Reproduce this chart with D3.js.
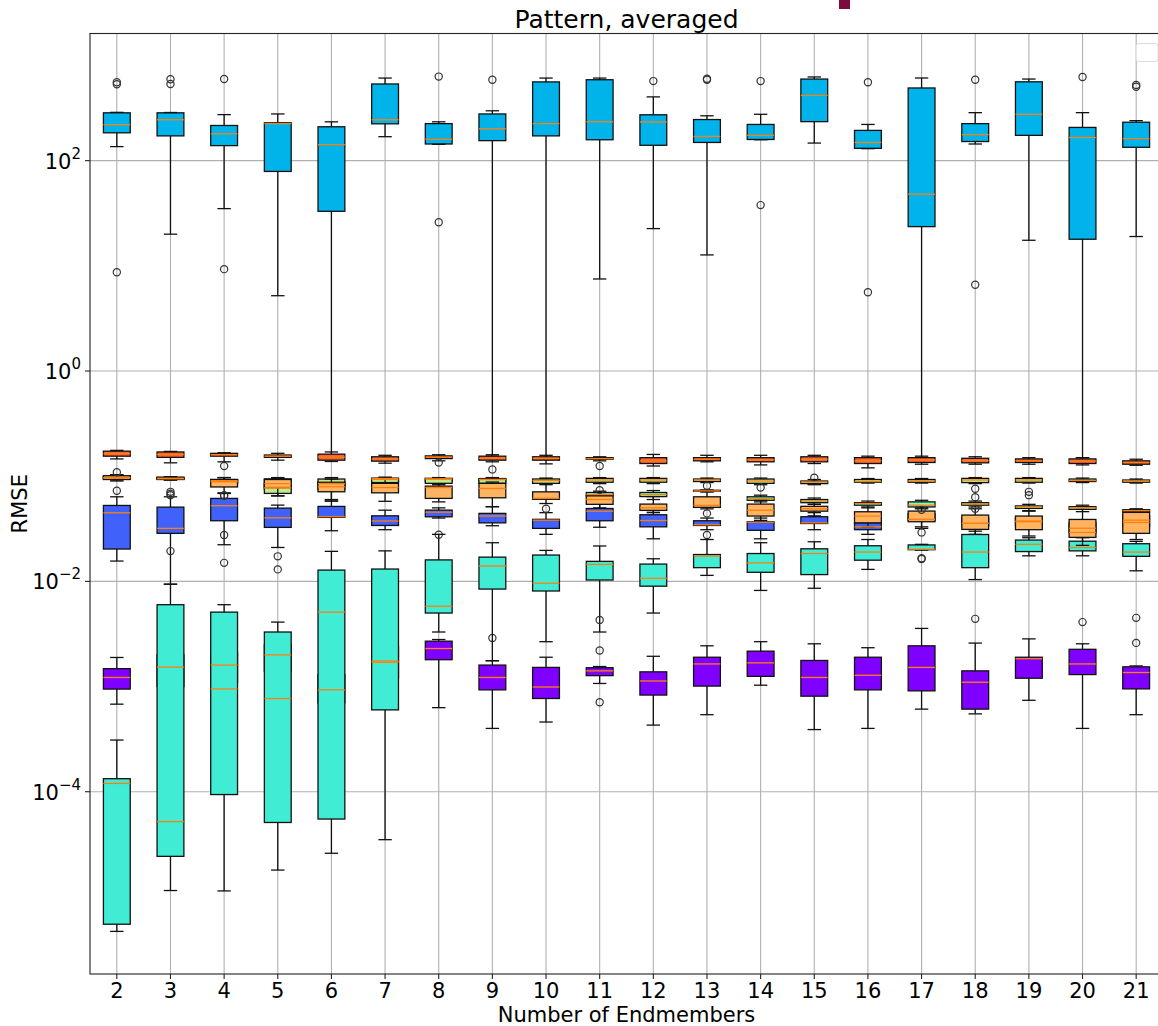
<!DOCTYPE html>
<html>
<head>
<meta charset="utf-8">
<script src="https://cdn.jsdelivr.net/npm/d3@7"></script>
<style>
  body { margin: 0; background: #fff; }
  text { font-family: "DejaVu Sans", sans-serif; fill: #000; }
</style>
</head>
<body>
<svg id="chart" width="1158" height="1026"></svg>
<script>
const categories = ['2', '3', '4', '5', '6', '7', '8', '9', '10', '11', '12', '13', '14', '15', '16', '17', '18', '19', '20', '21'];
const yTickValues = [1e-4, 1e-2, 1, 1e2];
const yTickExponents = ['\u22124', '\u22122', '0', '2'];

// five-number summaries per category: [low whisker, Q1, median, Q3, high whisker]
const purpleStats = [
    [0.00068, 0.000946, 0.00122, 0.00148, 0.00189], [0.0006, 0.001, 0.00153, 0.002, 0.003],
    [0.0006, 0.0011, 0.0016, 0.0021, 0.0032], [0.0008, 0.0014, 0.002, 0.0025, 0.003],
    [0.0004, 0.0007, 0.00093, 0.0013, 0.002], [0.0007, 0.0012, 0.0017, 0.0024, 0.0035],
    [0.00063, 0.0018, 0.0023, 0.0027, 0.0028], [0.0004, 0.00093, 0.00122, 0.0016, 0.00176],
    [0.00046, 0.00077, 0.00099, 0.00152, 0.0019], [0.00107, 0.00127, 0.00141, 0.00151, 0.00155],
    [0.00043, 0.00083, 0.00113, 0.00138, 0.00194], [0.00054, 0.00101, 0.00164, 0.0019, 0.00244],
    [0.00103, 0.00125, 0.00168, 0.00217, 0.00267], [0.00039, 0.00081, 0.00122, 0.00177, 0.00255],
    [0.0004, 0.00093, 0.00128, 0.0019, 0.00234], [0.00061, 0.00091, 0.00152, 0.00244, 0.00357],
    [0.00055, 0.00061, 0.0011, 0.00141, 0.00259], [0.00074, 0.0012, 0.00184, 0.0019, 0.00284],
    [0.0004, 0.0013, 0.00164, 0.00226, 0.00255], [0.00054, 0.00095, 0.00136, 0.00154, 0.00157]
];
const blueStats = [
    [0.0156, 0.0203, 0.0449, 0.0527, 0.0637], [0.0094, 0.0286, 0.0319, 0.0508, 0.0637],
    [0.0223, 0.0377, 0.0524, 0.0615, 0.0685], [0.021, 0.0326, 0.0402, 0.0497, 0.0531],
    [0.0303, 0.0406, 0.0412, 0.0516, 0.058], [0.031, 0.034, 0.0375, 0.042, 0.0475],
    [0.04, 0.0411, 0.0455, 0.0476, 0.05], [0.0338, 0.036, 0.0418, 0.0443, 0.0513],
    [0.028, 0.0319, 0.0382, 0.0389, 0.045], [0.0327, 0.0377, 0.0465, 0.0493, 0.055],
    [0.0254, 0.033, 0.0379, 0.043, 0.047], [0.031, 0.034, 0.0345, 0.0377, 0.04],
    [0.0254, 0.0306, 0.0365, 0.0369, 0.04], [0.031, 0.0355, 0.036, 0.0412, 0.045],
    [0.028, 0.031, 0.033, 0.036, 0.038], [0.033, 0.038, 0.0388, 0.044, 0.046],
    [0.032, 0.034, 0.0356, 0.04, 0.042], [0.032, 0.034, 0.0375, 0.04, 0.041],
    [0.028, 0.029, 0.032, 0.036, 0.038], [0.03, 0.033, 0.0382, 0.042, 0.044]
];
const cyanStats = [
    [136, 184, 220, 285, 288], [20, 172, 245, 285, 287], [35, 139, 180, 216, 274],
    [5.2, 79, 225, 229, 278], [0.155, 33, 142, 210, 234], [169, 224, 245, 536, 610],
    [143, 144, 160, 225, 234], [0.155, 155, 201, 278, 298], [0.15, 172, 225, 561, 610],
    [7.5, 158, 234, 588, 610], [22.6, 140, 233, 273, 404], [12.7, 149, 170, 246, 267],
    [158, 159, 174, 221, 276], [147, 235, 417, 597, 625], [130, 131, 149, 194, 221],
    [0.15, 23.6, 48, 491, 611], [144, 152, 177, 225, 286], [17.5, 174, 276, 562, 597],
    [0.15, 17.9, 166, 207, 286], [19, 134, 162, 232, 240]
];
const turquoiseStats = [
    [4.7e-6, 5.5e-6, 0.00012, 0.000133, 0.00031], [1.15e-5, 2.43e-5, 5.2e-5, 0.006, 0.0094],
    [1.14e-5, 9.4e-5, 0.00095, 0.0051, 0.006], [1.8e-5, 5.1e-5, 0.00077, 0.0033, 0.0041],
    [2.6e-5, 5.5e-5, 0.0051, 0.0128, 0.0193], [3.5e-5, 0.0006, 0.00175, 0.0131, 0.0195],
    [0.0033, 0.005, 0.0058, 0.016, 0.028], [0.00176, 0.00845, 0.014, 0.017, 0.0233],
    [0.00267, 0.0081, 0.0096, 0.0178, 0.0197], [0.0033, 0.0103, 0.0145, 0.0155, 0.0217],
    [0.005, 0.009, 0.0107, 0.0146, 0.0164], [0.0114, 0.0135, 0.0174, 0.018, 0.025],
    [0.0082, 0.0122, 0.015, 0.0184, 0.0233], [0.0086, 0.0116, 0.0184, 0.0204, 0.0238],
    [0.013, 0.0159, 0.019, 0.0218, 0.025], [0.0198, 0.02, 0.0202, 0.0222, 0.0225],
    [0.0104, 0.0135, 0.019, 0.0279, 0.03], [0.0175, 0.0192, 0.0225, 0.0247, 0.026],
    [0.0175, 0.0195, 0.021, 0.0241, 0.026], [0.0126, 0.0173, 0.019, 0.0228, 0.024]
];
const mintStats = [
    [0.094, 0.095, 0.097, 0.099, 0.1], [0.093, 0.094, 0.095, 0.096, 0.097],
    [0.085, 0.087, 0.09, 0.092, 0.093], [0.07, 0.075, 0.0775, 0.085, 0.09],
    [0.08, 0.082, 0.085, 0.088, 0.09], [0.088, 0.09, 0.093, 0.094, 0.095],
    [0.087, 0.089, 0.094, 0.095, 0.095], [0.087, 0.089, 0.093, 0.094, 0.095],
    [0.087, 0.088, 0.091, 0.093, 0.094], [0.063, 0.065, 0.067, 0.07, 0.072],
    [0.06, 0.064, 0.067, 0.07, 0.073], [0.071, 0.072, 0.0725, 0.0735, 0.074],
    [0.057, 0.059, 0.061, 0.0637, 0.066], [0.054, 0.056, 0.058, 0.06, 0.062],
    [0.051, 0.053, 0.055, 0.056, 0.058], [0.049, 0.051, 0.053, 0.057, 0.059],
    [0.051, 0.053, 0.0545, 0.056, 0.058], [0.047, 0.0494, 0.051, 0.0522, 0.054],
    [0.046, 0.0484, 0.05, 0.0513, 0.053], [0.045, 0.046, 0.047, 0.048, 0.049]
];
const lightGreenStats = [
    [0.092, 0.094, 0.097, 0.1, 0.103], [0.092, 0.094, 0.095, 0.097, 0.099],
    [0.08, 0.085, 0.09, 0.093, 0.097], [0.065, 0.0686, 0.0775, 0.0944, 0.097],
    [0.06, 0.075, 0.085, 0.094, 0.097], [0.085, 0.087, 0.095, 0.096, 0.098],
    [0.083, 0.0855, 0.094, 0.0953, 0.097], [0.083, 0.0855, 0.093, 0.095, 0.097],
    [0.083, 0.0855, 0.091, 0.094, 0.096], [0.085, 0.0876, 0.092, 0.0953, 0.097],
    [0.085, 0.0876, 0.092, 0.0953, 0.097], [0.087, 0.089, 0.092, 0.094, 0.096],
    [0.083, 0.0855, 0.09, 0.094, 0.096], [0.083, 0.085, 0.088, 0.09, 0.093],
    [0.086, 0.0876, 0.089, 0.093, 0.095], [0.086, 0.0876, 0.09, 0.093, 0.095],
    [0.085, 0.0869, 0.092, 0.0953, 0.097], [0.086, 0.0876, 0.092, 0.0953, 0.097],
    [0.087, 0.089, 0.091, 0.094, 0.096], [0.086, 0.0876, 0.09, 0.092, 0.094]
];
const orangeStats = [
    [0.09, 0.093, 0.096, 0.101, 0.103], [0.092, 0.093, 0.095, 0.098, 0.099],
    [0.0695, 0.079, 0.0885, 0.093, 0.097], [0.065, 0.078, 0.085, 0.093, 0.095],
    [0.058, 0.0711, 0.0794, 0.0876, 0.094], [0.0577, 0.0695, 0.078, 0.0855, 0.096],
    [0.057, 0.0615, 0.078, 0.0805, 0.085], [0.0513, 0.0623, 0.0765, 0.0855, 0.088],
    [0.055, 0.0603, 0.0617, 0.071, 0.085], [0.05, 0.054, 0.06, 0.065, 0.07],
    [0.045, 0.0473, 0.05, 0.0543, 0.064], [0.0489, 0.0505, 0.0528, 0.0637, 0.071],
    [0.038, 0.0418, 0.0475, 0.0543, 0.059], [0.042, 0.0465, 0.049, 0.0517, 0.056],
    [0.033, 0.036, 0.0418, 0.0459, 0.05], [0.0319, 0.0369, 0.0388, 0.0466, 0.05],
    [0.028, 0.0312, 0.0356, 0.0427, 0.049], [0.027, 0.031, 0.0369, 0.0418, 0.0465],
    [0.022, 0.0262, 0.0292, 0.0388, 0.0484], [0.025, 0.0286, 0.0363, 0.0453, 0.046]
];
const orangeRedStats = [
    [0.146, 0.155, 0.164, 0.173, 0.176], [0.134, 0.151, 0.161, 0.17, 0.172],
    [0.137, 0.155, 0.16, 0.165, 0.167], [0.142, 0.151, 0.155, 0.159, 0.165],
    [0.138, 0.142, 0.152, 0.162, 0.17], [0.133, 0.139, 0.146, 0.153, 0.158],
    [0.14, 0.147, 0.152, 0.156, 0.16], [0.137, 0.142, 0.148, 0.155, 0.16],
    [0.131, 0.142, 0.148, 0.153, 0.158], [0.14, 0.145, 0.147, 0.15, 0.153],
    [0.125, 0.132, 0.14, 0.15, 0.161], [0.137, 0.14, 0.145, 0.15, 0.158],
    [0.128, 0.137, 0.143, 0.15, 0.158], [0.132, 0.137, 0.145, 0.153, 0.158],
    [0.12, 0.132, 0.14, 0.15, 0.155], [0.13, 0.135, 0.143, 0.15, 0.155],
    [0.13, 0.134, 0.141, 0.148, 0.153], [0.13, 0.135, 0.14, 0.146, 0.15],
    [0.128, 0.132, 0.139, 0.146, 0.15], [0.127, 0.13, 0.135, 0.14, 0.145]
];

// outliers: [category, value]
const purpleFliers = [[9, 0.0029], [11, 0.0022], [11, 0.00071], [18, 0.0044], [20, 0.0041], [21, 0.0045], [21, 0.0026]];
const blueFliers = [[3, 0.0194], [4, 0.0276], [4, 0.015], [5, 0.0173], [5, 0.013], [8, 0.0278], [13, 0.0276]];
const cyanFliers = [[2, 533], [2, 557], [2, 8.7], [3, 595], [3, 535], [4, 597], [4, 9.3], [8, 630], [8, 26],
    [9, 587], [12, 571], [13, 587], [13, 600], [14, 571], [14, 37.8], [16, 557], [16, 5.6], [18, 587],
    [18, 6.6], [20, 625], [21, 525], [21, 505]];
const turquoiseFliers = [[11, 0.0043], [17, 0.0163], [17, 0.0166]];
const mintFliers = [];
const lightGreenFliers = [[13, 0.081], [14, 0.078], [15, 0.0967], [18, 0.076], [18, 0.063], [19, 0.071]];
const orangeFliers = [[2, 0.0727], [3, 0.071], [3, 0.066], [3, 0.068], [4, 0.066], [4, 0.065], [10, 0.049],
    [11, 0.0737], [13, 0.0443], [17, 0.0292], [17, 0.048], [18, 0.049], [19, 0.066]];
const orangeRedFliers = [[2, 0.109], [4, 0.125], [8, 0.135], [9, 0.116], [11, 0.125]];

const series = [
    { color: '#8000ff', stats: purpleStats, fliers: purpleFliers },
    { color: '#4062fa', stats: blueStats, fliers: blueFliers },
    { color: '#00b4eb', stats: cyanStats, fliers: cyanFliers },
    { color: '#40ecd4', stats: turquoiseStats, fliers: turquoiseFliers },
    { color: '#80ffb4', stats: mintStats, fliers: mintFliers },
    { color: '#c0eb8d', stats: lightGreenStats, fliers: lightGreenFliers },
    { color: '#ffb462', stats: orangeStats, fliers: orangeFliers },
    { color: '#ff6232', stats: orangeRedStats, fliers: orangeRedFliers }
];

const margin = { top: 33.5, right: -5, bottom: 52, left: 90 };
const W = 1158, H = 1026;
const width = W - margin.left - margin.right;
const height = H - margin.top - margin.bottom;

const svg = d3.select('#chart');
const g = svg.append('g').attr('transform', 'translate(' + margin.left + ',' + margin.top + ')');

const x = d3.scaleBand().domain(categories).range([0, width]).padding(0);
const y = d3.scaleLog().domain([Math.pow(10, -5.733), Math.pow(10, 3.209)]).range([height, 0]);
const cx = c => x(String(c)) + x.bandwidth() / 2;
const boxW = x.bandwidth() * 0.5;
const capW = boxW * 0.5;

// grid
g.append('g').selectAll('line').data(categories).join('line')
    .attr('x1', d => cx(d)).attr('x2', d => cx(d)).attr('y1', 0).attr('y2', height)
    .attr('stroke', '#b0b0b0').attr('stroke-width', 1.1);
g.append('g').selectAll('line').data(yTickValues).join('line')
    .attr('x1', 0).attr('x2', width).attr('y1', d => y(d)).attr('y2', d => y(d))
    .attr('stroke', '#b0b0b0').attr('stroke-width', 1.1);

// boxes, whiskers, caps and fliers in drawing order; medians go on top of everything
const marks = g.append('g');
const medians = [];
series.forEach(s => {
    s.stats.forEach((st, i) => {
        const c = categories[i];
        const px = cx(c);
        const [lo, q1, med, q3, hi] = st;
        const grp = marks.append('g');
        grp.append('rect')
            .attr('x', px - boxW / 2).attr('width', boxW)
            .attr('y', y(q3)).attr('height', Math.max(0.5, y(q1) - y(q3)))
            .attr('fill', s.color).attr('stroke', '#111').attr('stroke-width', 1.3);
        grp.append('line').attr('x1', px).attr('x2', px).attr('y1', y(q1)).attr('y2', y(lo))
            .attr('stroke', '#111').attr('stroke-width', 1.3);
        grp.append('line').attr('x1', px).attr('x2', px).attr('y1', y(q3)).attr('y2', y(hi))
            .attr('stroke', '#111').attr('stroke-width', 1.3);
        [lo, hi].forEach(v => {
            grp.append('line').attr('x1', px - capW / 2).attr('x2', px + capW / 2)
                .attr('y1', y(v)).attr('y2', y(v)).attr('stroke', '#111').attr('stroke-width', 1.3);
        });
        medians.push({ c: c, v: med });
    });
    marks.append('g').selectAll('circle').data(s.fliers).join('circle')
        .attr('cx', d => cx(d[0])).attr('cy', d => y(d[1])).attr('r', 3.6)
        .attr('fill', 'none').attr('stroke', '#333').attr('stroke-width', 1.2);
});
g.append('g').selectAll('line').data(medians).join('line')
    .attr('x1', d => cx(d.c) - boxW / 2).attr('x2', d => cx(d.c) + boxW / 2)
    .attr('y1', d => y(d.v)).attr('y2', d => y(d.v))
    .attr('stroke', '#ff7f0e').attr('stroke-width', 1.3);

// empty legend frame, upper right
g.append('rect').attr('x', 1136 - margin.left).attr('y', 43.5 - margin.top)
    .attr('width', 22).attr('height', 18).attr('rx', 3)
    .attr('fill', '#fff').attr('fill-opacity', 0.8).attr('stroke', '#dcdcdc');

// spines
const spine = g.append('g').attr('stroke', '#222').attr('stroke-width', 1.1).attr('fill', 'none');
spine.append('rect').attr('x', 0).attr('y', 0).attr('width', width).attr('height', height);

// x axis
const xAxis = d3.axisBottom(x).tickSize(5).tickPadding(4);
const xa = g.append('g').attr('transform', 'translate(0,' + height + ')').call(xAxis);
xa.select('.domain').remove();
xa.selectAll('line').attr('stroke', '#222').attr('stroke-width', 1.1);
xa.selectAll('text').attr('font-size', 21).attr('font-family', '"DejaVu Sans", sans-serif');

// y axis with 10^n labels
const ya = g.append('g');
ya.selectAll('line').data(yTickValues).join('line')
    .attr('x1', -5).attr('x2', 0).attr('y1', d => y(d)).attr('y2', d => y(d))
    .attr('stroke', '#222').attr('stroke-width', 1.1);
const yl = ya.selectAll('text').data(yTickValues).join('text')
    .attr('x', -9).attr('y', d => y(d) + 8).attr('text-anchor', 'end').attr('font-size', 21);
yl.append('tspan').text('10');
yl.append('tspan').attr('dy', -10).attr('font-size', 15).text((d, i) => yTickExponents[i]);

// labels
svg.append('text').attr('x', margin.left + (1163 - margin.left) / 2).attr('y', 28)
    .attr('text-anchor', 'middle').attr('font-size', 25).text('Pattern, averaged');
svg.append('text').attr('x', margin.left + (1163 - margin.left) / 2).attr('y', 1022)
    .attr('text-anchor', 'middle').attr('font-size', 21).text('Number of Endmembers');
svg.append('text').attr('transform', 'translate(27,' + (margin.top + height / 2) + ') rotate(-90)')
    .attr('text-anchor', 'middle').attr('font-size', 21).text('RMSE');

// small dark square above the axes
svg.append('rect').attr('x', 839).attr('y', 0).attr('width', 11).attr('height', 9).attr('fill', '#7d0c3d');
</script>
</body>
</html>
